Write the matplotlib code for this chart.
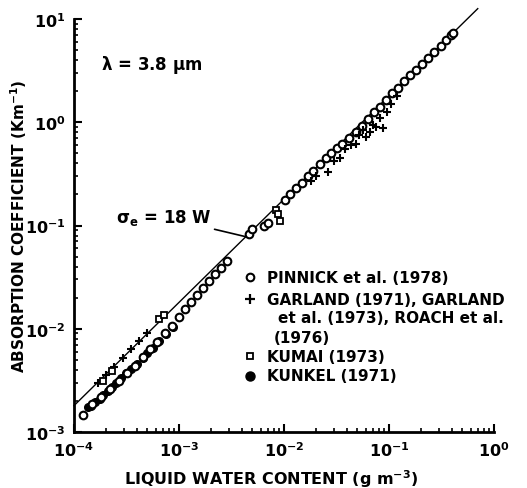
import numpy as np
import matplotlib
matplotlib.use("Agg")
import matplotlib.pyplot as plt
from matplotlib.ticker import FixedLocator, FixedFormatter, LogLocator, NullFormatter

plt.rcParams['font.family'] = ['DejaVu Sans']
plt.rcParams['mathtext.fontset'] = 'dejavusans'
plt.rcParams['mathtext.default'] = 'bf'

# Pinnick et al. (1978) - open circles
pin_w = [1.22e-4, 1.5e-4, 1.8e-4, 2.2e-4, 2.7e-4, 3.2e-4, 3.8e-4, 4.5e-4, 5.3e-4,
         6.2e-4, 7.3e-4, 8.5e-4, 1.0e-3, 1.15e-3, 1.3e-3, 1.5e-3, 1.7e-3, 1.95e-3,
         2.2e-3, 2.5e-3, 2.85e-3, 4.6e-3, 5.0e-3, 6.5e-3, 7.0e-3, 1.02e-2, 1.15e-2,
         1.3e-2, 1.5e-2, 1.7e-2, 1.9e-2, 2.2e-2, 2.5e-2, 2.8e-2, 3.2e-2, 3.6e-2,
         4.2e-2, 4.8e-2, 5.5e-2, 6.3e-2, 7.2e-2, 8.2e-2, 9.4e-2, 0.107, 0.122,
         0.14, 0.16, 0.18, 0.205, 0.235, 0.27, 0.31, 0.35, 0.39, 0.41]
pin_k = [1.45e-3, 1.85e-3, 2.2e-3, 2.6e-3, 3.1e-3, 3.7e-3, 4.4e-3, 5.3e-3, 6.3e-3,
         7.5e-3, 9.0e-3, 1.07e-2, 1.3e-2, 1.55e-2, 1.8e-2, 2.1e-2, 2.5e-2, 2.9e-2,
         3.4e-2, 3.9e-2, 4.5e-2, 0.082, 0.092, 0.098, 0.105, 0.178, 0.2,
         0.23, 0.26, 0.3, 0.34, 0.39, 0.45, 0.5, 0.56, 0.62,
         0.7, 0.8, 0.92, 1.07, 1.25, 1.42, 1.65, 1.9, 2.15,
         2.5, 2.85, 3.2, 3.65, 4.2, 4.8, 5.5, 6.2, 7.0, 7.4]

# Garland (1971), Garland et al. (1973), Roach et al. (1976) - crosses
gar_w = [1.7e-4, 2.0e-4, 2.4e-4, 2.9e-4, 3.5e-4, 4.2e-4, 5.0e-4, 1.8e-2, 2.0e-2,
         2.6e-2, 3.0e-2, 3.4e-2, 3.8e-2, 4.3e-2, 4.8e-2, 5.2e-2, 5.7e-2, 6.1e-2,
         6.6e-2, 7.1e-2, 7.6e-2, 8.2e-2, 8.8e-2, 9.5e-2, 0.105, 0.12]
gar_k = [3.0e-3, 3.6e-3, 4.3e-3, 5.2e-3, 6.3e-3, 7.6e-3, 9.0e-3, 0.27, 0.3,
         0.33, 0.42, 0.45, 0.55, 0.6, 0.62, 0.75, 0.85, 0.72,
         0.8, 0.95, 0.9, 1.1, 0.88, 1.25, 1.5, 1.8]

# Kumai (1973) - open squares
kum_w = [1.9e-4, 2.3e-4, 6.5e-4, 7.2e-4, 8.4e-3, 8.8e-3, 9.2e-3]
kum_k = [3.1e-3, 3.9e-3, 1.25e-2, 1.35e-2, 0.14, 0.128, 0.11]

# Kunkel (1971) - filled circles
kun_w = [1.35e-4, 1.45e-4, 1.6e-4, 1.75e-4, 1.9e-4, 2.1e-4, 2.3e-4, 2.5e-4, 2.8e-4,
         3.1e-4, 3.5e-4, 4.0e-4, 4.5e-4, 5.0e-4, 5.6e-4, 6.5e-4, 7.5e-4, 8.8e-4]
kun_k = [1.75e-3, 1.8e-3, 1.95e-3, 2.1e-3, 2.3e-3, 2.5e-3, 2.75e-3, 3.0e-3, 3.3e-3,
         3.7e-3, 4.1e-3, 4.6e-3, 5.2e-3, 5.8e-3, 6.5e-3, 7.6e-3, 8.8e-3, 1.03e-2]

# sigma_e = 18 W
line_coef = 18.0
line_w = np.array([1e-4, 0.7])

xticks = [1e-4, 1e-3, 1e-2, 1e-1, 1e0]
xlabels = ['$10^{-4}$', '$10^{-3}$', '$10^{-2}$', '$10^{-1}$', '$10^{0}$']
yticks = [1e-3, 1e-2, 1e-1, 1e0, 1e1]
ylabels = ['$10^{-3}$', '$10^{-2}$', '$10^{-1}$', '$10^{0}$', '$10^{1}$']

fig = plt.figure(figsize=(5.27, 4.89), dpi=100)
ax = fig.add_axes([0.1404, 0.1145, 0.797, 0.8446])
ax.set_xscale('log')
ax.set_yscale('log')
ax.set_xlim(1e-4, 1e0)
ax.set_ylim(1e-3, 1e1)

ax.plot(line_w, line_coef * line_w, color='black', lw=1.0, clip_on=False)

ms = 5.5
ax.plot(kun_w, kun_k, 'o', color='black', ms=ms, zorder=3)
ax.plot(pin_w, pin_k, 'o', mfc='white', mec='black', mew=1.5, ms=ms, zorder=4)
ax.plot(gar_w, gar_k, '+', color='black', mew=1.5, ms=6, zorder=4)
ax.plot(kum_w, kum_k, 's', mfc='white', mec='black', mew=1.3, ms=5, zorder=4)

# axes styling
for s in ['top', 'right']:
    ax.spines[s].set_visible(False)
for s in ['left', 'bottom']:
    ax.spines[s].set_linewidth(2)
ax.xaxis.set_major_locator(FixedLocator(xticks))
ax.xaxis.set_major_formatter(FixedFormatter(xlabels))
ax.yaxis.set_major_locator(FixedLocator(yticks))
ax.yaxis.set_major_formatter(FixedFormatter(ylabels))
ax.xaxis.set_minor_locator(LogLocator(base=10, subs=np.arange(2, 10)))
ax.yaxis.set_minor_locator(LogLocator(base=10, subs=np.arange(2, 10)))
ax.xaxis.set_minor_formatter(NullFormatter())
ax.yaxis.set_minor_formatter(NullFormatter())
ax.tick_params(which='major', direction='in', length=6, width=1.5, labelsize=11.5, pad=6)
ax.tick_params(which='minor', direction='in', length=3, width=1.2)

ax.set_xlabel('LIQUID WATER CONTENT (g m$^{-3}$)', fontsize=11.5, fontweight='bold')
ax.set_ylabel('ABSORPTION COEFFICIENT (Km$^{-1}$)', fontsize=11, fontweight='bold')
ax.xaxis.set_label_coords(0.47, -0.085)
ax.yaxis.set_label_coords(-0.108, 0.5)

ax.text(0.065, 0.89, r'$\lambda$ = 3.8 $\mu$m', transform=ax.transAxes,
        fontsize=12, fontweight='bold', va='center')
ax.annotate(r'$\sigma_e$ = 18 W', xy=(4.3e-3, 0.078), xytext=(0.10, 0.52),
            textcoords='axes fraction', fontsize=12, fontweight='bold', va='center',
            arrowprops=dict(arrowstyle='-', color='black', lw=1.2,
                            shrinkA=0, shrinkB=0))

# legend (manual)
mx, tx = 0.419, 0.46
rows = [0.375, 0.322, 0.278, 0.230, 0.184, 0.136]
ax.plot([mx], [rows[0]], 'o', mfc='white', mec='black', mew=1.5, ms=ms,
        transform=ax.transAxes, clip_on=False)
ax.plot([mx], [rows[1]], '+', color='black', mew=1.6, ms=7,
        transform=ax.transAxes, clip_on=False)
ax.plot([mx], [rows[4]], 's', mfc='white', mec='black', mew=1.3, ms=5,
        transform=ax.transAxes, clip_on=False)
ax.plot([mx], [rows[5]], 'o', color='black', ms=6.5,
        transform=ax.transAxes, clip_on=False)
legend_text = [
    (tx, rows[0], 'PINNICK et al. (1978)'),
    (tx, rows[1], 'GARLAND (1971), GARLAND'),
    (tx + 0.025, rows[2], 'et al. (1973), ROACH et al.'),
    (tx + 0.015, rows[3], '(1976)'),
    (tx, rows[4], 'KUMAI (1973)'),
    (tx, rows[5], 'KUNKEL (1971)'),
]
for x, y, t in legend_text:
    ax.text(x, y, t, transform=ax.transAxes, fontsize=11, fontweight='bold',
            va='center', ha='left')

fig.savefig('out.png', dpi=100)
